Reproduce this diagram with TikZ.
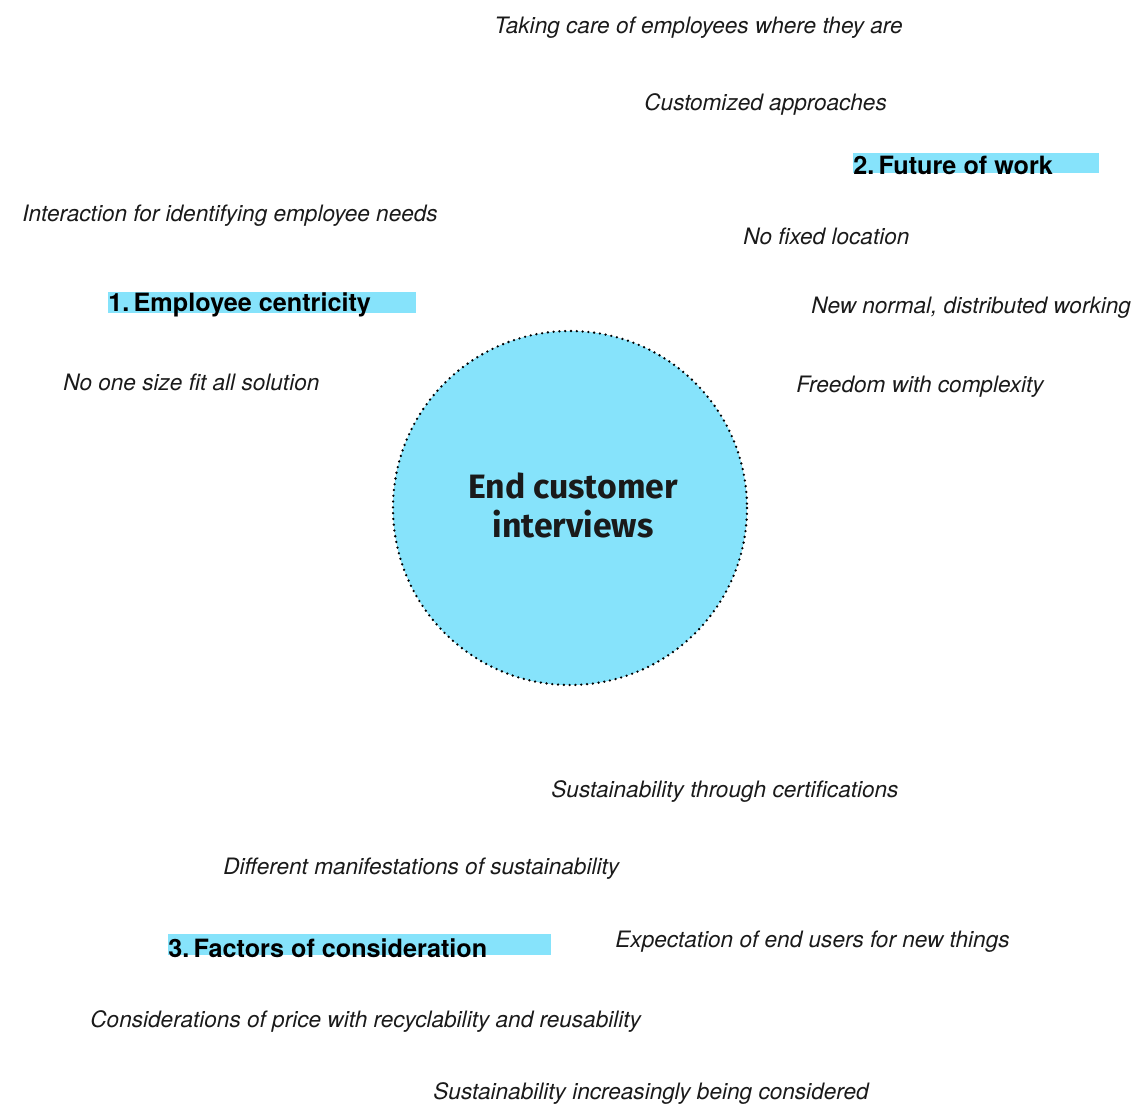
\documentclass[tikz,border=0pt]{standalone}
\usepackage{fontspec}
\setmainfont{TeX Gyre Heros}
\newfontfamily\headfont{Fira Sans}
\usepackage{tikz}
\definecolor{sky}{HTML}{86E3FB}
\definecolor{ink}{HTML}{1A1A1A}

\begin{document}
\begin{tikzpicture}[x=.5pt,y=-.5pt,
    note/.style={anchor=west,inner sep=0pt,font=\fontsize{11.3}{13}\selectfont\itshape,text=ink},
    theme/.style={anchor=west,inner sep=0pt,font=\fontsize{12.6}{14}\selectfont\bfseries,text=black},
    band/.style={fill=sky,draw=none}]
  \useasboundingbox (0,0) rectangle (1139,1104);
  % hub
  \draw[fill=sky,line width=1.3pt,line cap=round,dash pattern=on 0pt off 2.9pt] (570,508) circle (177);
  \node[align=center,font=\headfont\fontsize{16.9}{19.5}\selectfont\bfseries,text=ink] (hub) at (573,505) {End customer\\interviews};
  % themes on coloured bands
  \fill[band] (108,292) rectangle (416,313);
  \node[theme] (centricity) at (108,305) {1.\,Employee centricity};
  \fill[band] (853,153) rectangle (1099,173);
  \node[theme] (future) at (853,165) {2.\,Future of work};
  \fill[band] (168,934) rectangle (551,955);
  \node[theme] (factors) at (168,948) {3.\,Factors of consideration};
  % notes
  \node[note] (care) at (494,28) {Taking care of employees where they are};
  \node[note] (custom) at (644,104) {Customized approaches};
  \node[note] (needs) at (22,216) {Interaction for identifying employee needs};
  \node[note] (location) at (743,236) {No fixed location};
  \node[note] (normal) at (811,308) {New normal, distributed working};
  \node[note] (onesize) at (63,382) {No one size fit all solution};
  \node[note] (freedom) at (796,387) {Freedom with complexity};
  \node[note] (certs) at (551,792) {Sustainability through certifications};
  \node[note] (manif) at (223,869) {Different manifestations of sustainability};
  \node[note] (expect) at (615,942) {Expectation of end users for new things};
  \node[note] (price) at (90,1022) {Considerations of price with recyclability and reusability};
  \node[note] (increase) at (433,1093) {Sustainability increasingly being considered};
\end{tikzpicture}
\end{document}
